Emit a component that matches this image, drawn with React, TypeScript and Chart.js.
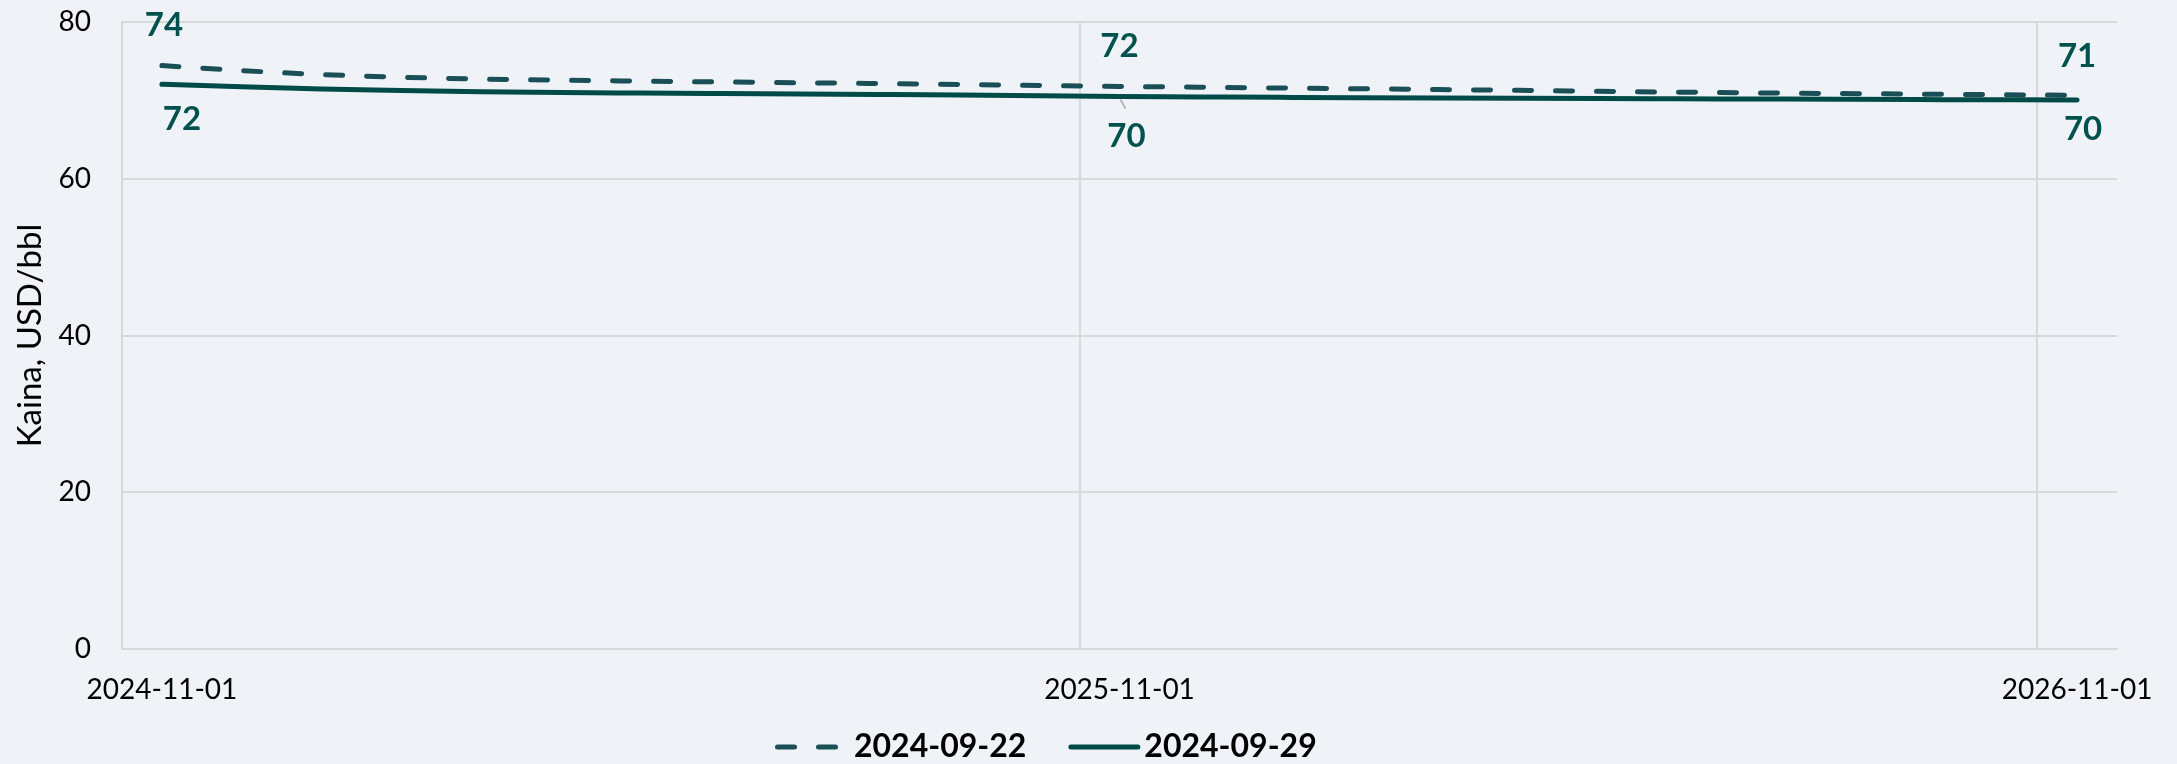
import React, { useEffect, useRef } from "react";
import { Chart, registerables } from "chart.js";
Chart.register(...registerables);

const categories = [
  "2024-11-01", "2024-12-01", "2025-01-01", "2025-02-01", "2025-03-01",
  "2025-04-01", "2025-05-01", "2025-06-01", "2025-07-01", "2025-08-01",
  "2025-09-01", "2025-10-01", "2025-11-01", "2025-12-01", "2026-01-01",
  "2026-02-01", "2026-03-01", "2026-04-01", "2026-05-01", "2026-06-01",
  "2026-07-01", "2026-08-01", "2026-09-01", "2026-10-01", "2026-11-01",
];
const tickLabels = ["2024-11-01", "2025-11-01", "2026-11-01"];
const labelledDates = ["2024-11-01", "2025-11-01", "2026-11-01"];

const series0922 = [
  74.44, 73.8, 73.3, 72.95, 72.72, 72.58, 72.45, 72.35, 72.25, 72.15,
  72.02, 71.9, 71.78, 71.68, 71.58, 71.48, 71.38, 71.28, 71.15, 71.05,
  70.95, 70.87, 70.8, 70.72, 70.65,
];
const series0929 = [
  72.05, 71.75, 71.45, 71.25, 71.1, 71.0, 70.93, 70.87, 70.81, 70.75,
  70.68, 70.59, 70.49, 70.44, 70.39, 70.35, 70.31, 70.27, 70.23, 70.2,
  70.17, 70.14, 70.1, 70.07, 70.05,
];
const seriesNames = ["2024-09-22", "2024-09-29"];
const yMin = 0;
const yMax = 80;
const yStep = 20;

const FONT = "Lato, 'Open Sans', sans-serif";
const BG = "#eff3f7";
const GRID = "#d9d9d9";
const DASH_COLOR = "#1b4f58";
const SOLID_COLOR = "#004b47";
const LABEL_COLOR = "#00524e";

// label offsets (px) per dataset, per labelled point
const labelOffsets = [
  [ [2, -40], [0, -40], [0, -39] ],
  [ [20, 35], [7, 40], [6, 29] ],
];

const bgPlugin = {
  id: "bgfill",
  beforeDraw(chart: any) {
    const { ctx, width, height } = chart;
    ctx.save();
    ctx.fillStyle = BG;
    ctx.fillRect(0, 0, width, height);
    ctx.restore();
  },
};

const labelPlugin = {
  id: "pointLabels",
  afterDatasetsDraw(chart: any) {
    const { ctx } = chart;
    ctx.save();
    ctx.font = `bold 33px ${FONT}`;
    ctx.fillStyle = LABEL_COLOR;
    ctx.textAlign = "center";
    ctx.textBaseline = "middle";
    chart.data.datasets.forEach((ds: any, di: number) => {
      const meta = chart.getDatasetMeta(di);
      labelledDates.forEach((d, k) => {
        const idx = categories.indexOf(d);
        const pt = meta.data[idx];
        if (!pt) return;
        const [dx, dy] = labelOffsets[di][k];
        const x = pt.x + dx;
        const y = pt.y + dy;
        if (di === 1 && k === 1) {
          ctx.save();
          ctx.strokeStyle = "#a6a6a6";
          ctx.lineWidth = 1.5;
          ctx.beginPath();
          ctx.moveTo(pt.x + 1, pt.y + 3);
          ctx.lineTo(pt.x + 6, pt.y + 12);
          ctx.stroke();
          ctx.restore();
        }
        ctx.fillText(String(Math.round(ds.data[idx])), x, y);
      });
    });
    ctx.restore();
  },
};

const legendPlugin = {
  id: "customLegend",
  afterDraw(chart: any) {
    const { ctx } = chart;
    const y = 747;
    ctx.save();
    ctx.font = `bold 32px ${FONT}`;
    ctx.textBaseline = "middle";
    ctx.textAlign = "left";
    let x = 775;
    chart.data.datasets.forEach((ds: any, i: number) => {
      const w = i === 0 ? 65 : 72;
      ctx.strokeStyle = ds.borderColor;
      ctx.lineWidth = ds.borderWidth;
      ctx.lineCap = "round";
      ctx.setLineDash(ds.borderDash || []);
      ctx.beginPath();
      ctx.moveTo(x + 2.5, y);
      ctx.lineTo(x + w - 2.5, y);
      ctx.stroke();
      ctx.setLineDash([]);
      ctx.fillStyle = "#000";
      const tx = x + w + (i === 0 ? 14 : 4);
      ctx.fillText(ds.label, tx, y);
      x = tx + ctx.measureText(ds.label).width + 42;
    });
    ctx.restore();
  },
};

export default function App() {
  const ref = useRef<HTMLCanvasElement>(null);
  useEffect(() => {
    document.body.style.margin = "0";
    document.body.style.background = BG;
    const chart = new Chart(ref.current!, {
      type: "line",
      data: {
        labels: categories,
        datasets: [
          {
            label: seriesNames[0],
            data: series0922,
            borderColor: DASH_COLOR,
            borderWidth: 5,
            borderDash: [17, 24],
            borderCapStyle: "round",
            pointRadius: 0,
            tension: 0.4,
            cubicInterpolationMode: "monotone",
          },
          {
            label: seriesNames[1],
            data: series0929,
            borderColor: SOLID_COLOR,
            borderWidth: 5,
            borderCapStyle: "round",
            pointRadius: 0,
            tension: 0.4,
            cubicInterpolationMode: "monotone",
          },
        ],
      },
      options: {
        responsive: false,
        animation: false,
        layout: { padding: { left: 0, right: 60, top: 22, bottom: 0 } },
        plugins: { legend: { display: false }, tooltip: { enabled: false } },
        scales: {
          x: {
            offset: true,
            afterFit(scale: any) {
              scale.height = 115;
              scale.paddingLeft = 0;
              scale.paddingRight = 0;
            },
            grid: {
              offset: true,
              drawTicks: false,
              lineWidth: 2,
              color: (c: any) =>
                typeof c.index === "number" && c.index % 12 === 0 && c.index <= 24
                  ? GRID
                  : "rgba(0,0,0,0)",
            },
            border: { display: true, color: GRID, width: 2 },
            ticks: {
              autoSkip: false,
              maxRotation: 0,
              padding: 24,
              color: "#000",
              font: { family: FONT, size: 28 },
              callback: (_v: any, i: number) =>
                tickLabels.includes(categories[i]) ? categories[i] : "",
            },
          },
          y: {
            min: yMin,
            max: yMax,
            afterFit(scale: any) {
              scale.width = 122;
              scale.paddingTop = 0;
              scale.paddingBottom = 0;
            },
            grid: { color: GRID, lineWidth: 2, drawTicks: false },
            border: { display: true, color: GRID, width: 2 },
            ticks: {
              stepSize: yStep,
              padding: 31,
              color: "#000",
              font: { family: FONT, size: 28 },
            },
            title: {
              display: true,
              text: "Kaina, USD/bbl",
              color: "#000",
              font: { family: FONT, size: 33 },
              padding: { top: 11, bottom: 0 },
            },
          },
        },
      },
      plugins: [bgPlugin, labelPlugin, legendPlugin],
    } as any);
    return () => chart.destroy();
  }, []);
  return (
    <div style={{ position: "fixed", left: 0, top: 0, width: 2177, height: 764, background: BG }}>
      <canvas ref={ref} width={2177} height={764} style={{ width: 2177, height: 764, display: "block" }} />
    </div>
  );
}
